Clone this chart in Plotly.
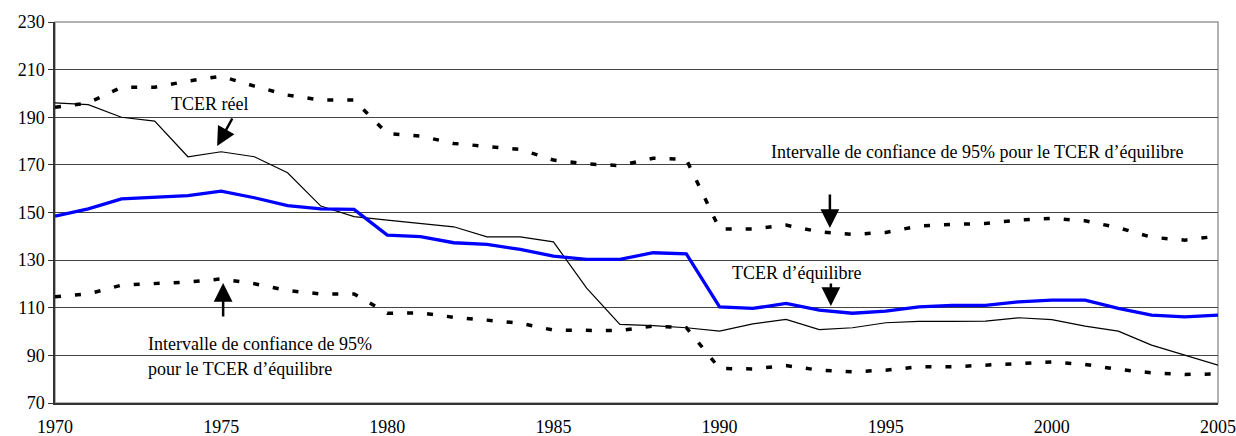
import plotly.graph_objects as go

years = list(range(1970, 2006))

tcer_reel = [196.0, 195.3, 190.0, 188.4, 173.4, 175.5, 173.4, 166.7, 152.7, 148.3,
             146.8, 145.3, 144.0, 139.8, 139.8, 137.7, 118.2, 103.0, 102.5, 101.6,
             100.2, 103.2, 105.1, 100.8, 101.6, 103.7, 104.3, 104.3, 104.4, 105.8,
             105.0, 102.3, 100.2, 94.3, 90.1, 85.9]

tcer_equilibre = [148.5, 151.5, 155.7, 156.4, 157.1, 159.0, 156.2, 152.9, 151.5, 151.3,
                  140.5, 139.9, 137.3, 136.6, 134.5, 131.7, 130.3, 130.3, 133.1, 132.6,
                  110.4, 109.7, 111.8, 109.0, 107.7, 108.6, 110.4, 111.0, 111.0, 112.5,
                  113.2, 113.2, 109.7, 106.9, 106.2, 106.9]

ic_haut = [194.2, 196.0, 202.6, 202.6, 205.2, 207.2, 203.1, 199.3, 197.2, 197.2,
           183.2, 182.1, 179.0, 177.6, 176.5, 172.0, 170.4, 169.7, 172.8, 172.3,
           143.1, 143.1, 144.7, 141.9, 140.8, 141.6, 144.3, 145.0, 145.4, 146.8,
           147.5, 146.5, 143.6, 139.6, 138.4, 140.1]

ic_bas = [114.6, 115.8, 119.5, 120.1, 120.8, 122.1, 120.1, 117.2, 115.8, 115.8,
          107.7, 107.8, 106.0, 104.8, 103.5, 100.6, 100.4, 100.4, 102.3, 101.6,
          84.5, 84.3, 85.7, 83.8, 83.1, 83.8, 85.2, 85.2, 85.9, 86.4,
          87.2, 86.2, 84.1, 82.7, 82.0, 82.2]

x_tick_vals = [1970, 1975, 1980, 1985, 1990, 1995, 2000, 2005]
x_tick_text = [str(v) for v in x_tick_vals]
y_tick_vals = [70, 90, 110, 130, 150, 170, 190, 210, 230]

FONT = "Liberation Serif, Times New Roman, serif"

fig = go.Figure()
dash_style = "6px,14px"
fig.add_trace(go.Scatter(x=years, y=ic_haut, mode="lines",
                         line=dict(color="black", width=3.5, dash=dash_style), hoverinfo="skip"))
fig.add_trace(go.Scatter(x=years, y=ic_bas, mode="lines",
                         line=dict(color="black", width=3.5, dash=dash_style), hoverinfo="skip"))
fig.add_trace(go.Scatter(x=years, y=tcer_reel, mode="lines",
                         line=dict(color="black", width=1.2), hoverinfo="skip"))
fig.add_trace(go.Scatter(x=years, y=tcer_equilibre, mode="lines",
                         line=dict(color="#0000FF", width=3.3), hoverinfo="skip"))

annotations = []
def text_ann(txt, x, y, xanchor):
    annotations.append(dict(text=txt, x=x, y=y, xref="x", yref="y", showarrow=False,
                            xanchor=xanchor, yanchor="middle", align="left",
                            font=dict(family=FONT, size=18, color="black")))

def arrow_ann(x, y, ax, ay):
    annotations.append(dict(text="", x=x, y=y, ax=ax, ay=ay, xref="x", yref="y",
                            axref="x", ayref="y", showarrow=True, arrowhead=2,
                            arrowsize=1.5, arrowwidth=2.5, arrowcolor="black", standoff=0,
                            startstandoff=0))

text_ann("TCER réel", 1974.66, 195.6, "center")
arrow_ann(1974.88, 177.9, 1975.36, 190.1)
text_ann("Intervalle de confiance de 95% pour le TCER d’équilibre", 1991.49, 175.2, "left")
arrow_ann(1993.32, 143.5, 1993.32, 158.2)
text_ann("TCER d’équilibre", 1990.31, 124.4, "left")
arrow_ann(1993.35, 110.7, 1993.35, 120.8)
text_ann("Intervalle de confiance de 95%", 1972.74, 94.6, "left")
text_ann("pour le TCER d’équilibre", 1972.74, 84.2, "left")
arrow_ann(1975.06, 120.4, 1975.06, 105.7)

fig.update_layout(
    template="none",
    width=1236, height=436,
    margin=dict(l=55, r=18, t=22, b=33, autoexpand=False),
    paper_bgcolor="white", plot_bgcolor="white",
    showlegend=False,
    font=dict(family=FONT, size=18, color="black"),
    annotations=annotations,
    xaxis=dict(range=[1970, 2005], tickmode="array", tickvals=x_tick_vals,
               ticktext=x_tick_text, ticks="outside", ticklen=7,
               tickcolor="rgba(0,0,0,0)", showgrid=False, zeroline=False,
               showline=True, linecolor="#333333", linewidth=1.5, automargin=False,
               tickfont=dict(family=FONT, size=18, color="black")),
    xaxis2=dict(range=[1970, 2005], overlaying="x", anchor="y", side="bottom",
                tickmode="linear", tick0=1970, dtick=4, ticks="outside", ticklen=5,
                tickcolor="#333333", tickwidth=1, showticklabels=False, automargin=False,
                showgrid=False, zeroline=False, showline=False),
    yaxis=dict(range=[70, 230], tickmode="array", tickvals=y_tick_vals,
               ticks="outside", ticklen=5, tickcolor="#333333", automargin=False,
               showgrid=True, gridcolor="#444444", gridwidth=1, zeroline=False,
               showline=True, linecolor="#333333", linewidth=1.5,
               tickfont=dict(family=FONT, size=18, color="black")),
    shapes=[dict(type="rect", xref="paper", yref="paper", x0=0, x1=1, y0=0, y1=1,
                 line=dict(color="#999999", width=1.5), layer="below")],
)

fig.write_html("out.html")
